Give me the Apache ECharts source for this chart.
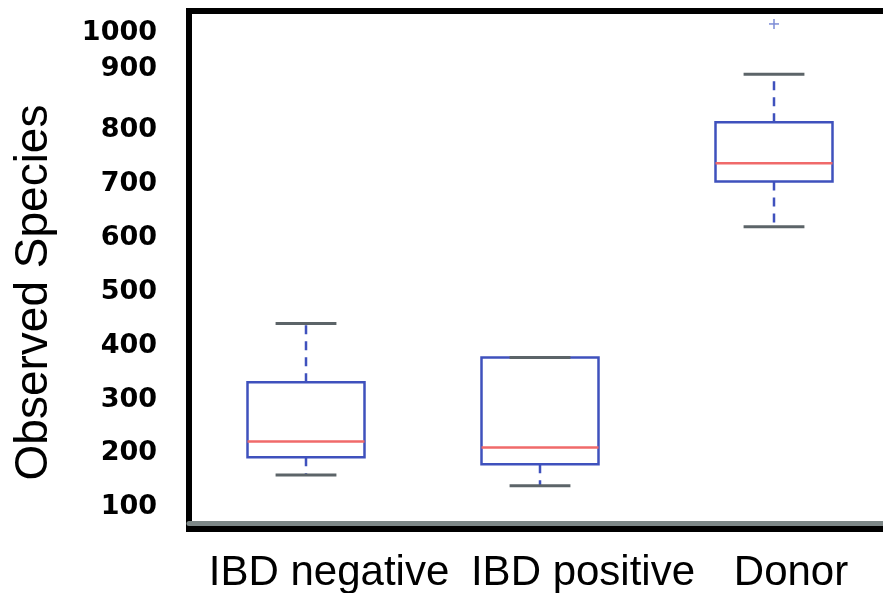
<!DOCTYPE html>
<html>
<head>
<meta charset="utf-8">
<script src="https://cdn.jsdelivr.net/npm/echarts@6/dist/echarts.min.js"></script>
<style>
html,body{margin:0;padding:0;background:#fff;}
#chart{width:883px;height:593px;}
</style>
</head>
<body>
<div id="chart"></div>
<script>
// ---- data ----
const categories = ['IBD negative', 'IBD positive', 'Donor'];
const whiskerLow = [160, 140, 620];
const q1 = [193, 180, 704];
const median = [222, 211, 738];
const q3 = [332, 378, 814];
const whiskerHigh = [441, 378, 903];
const outlierCategory = ['Donor'];
const outlierValue = [996];
const yTickValues = [100, 200, 300, 400, 500, 600, 700, 800, 900, 1000];
const yAxisTitle = 'Observed Species';

// ---- build series data ----
const boxData = categories.map((c, i) => [i, whiskerLow[i], q1[i], median[i], q3[i], whiskerHigh[i]]);
const outlierData = outlierCategory.map((c, i) => [categories.indexOf(c), outlierValue[i]]);

const BLUE = '#3f51bd';
const RED = '#f06a6a';
const CAP = '#5c6468';

function renderBox(params, api) {
  const x = api.value(0);
  const pLow = api.coord([x, api.value(1)]);
  const pQ1 = api.coord([x, api.value(2)]);
  const pMed = api.coord([x, api.value(3)]);
  const pQ3 = api.coord([x, api.value(4)]);
  const pHigh = api.coord([x, api.value(5)]);
  const band = api.size([1, 0])[0];
  const hw = band * 0.25;
  const cw = band * 0.13;
  const cx = pMed[0];
  const children = [];
  const dash = {stroke: BLUE, lineWidth: 2.5, lineDash: [9, 7]};
  if (pHigh[1] < pQ3[1]) {
    children.push({type: 'line', shape: {x1: cx, y1: pQ3[1], x2: cx, y2: pHigh[1]}, style: dash});
  }
  if (pLow[1] > pQ1[1]) {
    children.push({type: 'line', shape: {x1: cx, y1: pQ1[1], x2: cx, y2: pLow[1]}, style: dash});
  }
  children.push({type: 'rect', shape: {x: cx - hw, y: pQ3[1], width: hw * 2, height: pQ1[1] - pQ3[1]},
    style: {fill: '#fff', stroke: BLUE, lineWidth: 2.5}});
  children.push({type: 'line', shape: {x1: cx - cw, y1: pHigh[1], x2: cx + cw, y2: pHigh[1]},
    style: {stroke: CAP, lineWidth: 3}});
  children.push({type: 'line', shape: {x1: cx - cw, y1: pLow[1], x2: cx + cw, y2: pLow[1]},
    style: {stroke: CAP, lineWidth: 3}});
  children.push({type: 'line', shape: {x1: cx - hw, y1: pMed[1], x2: cx + hw, y2: pMed[1]},
    style: {stroke: RED, lineWidth: 2.5}});
  return {type: 'group', children: children};
}

function renderOutlier(params, api) {
  const p = api.coord([api.value(0), api.value(1)]);
  const s = 5;
  return {type: 'group', children: [
    {type: 'line', shape: {x1: p[0] - s, y1: p[1], x2: p[0] + s, y2: p[1]}, style: {stroke: '#7d8cd6', lineWidth: 1.5}},
    {type: 'line', shape: {x1: p[0], y1: p[1] - s, x2: p[0], y2: p[1] + s}, style: {stroke: '#7d8cd6', lineWidth: 1.5}}
  ]};
}

const labelFont = 'Liberation Sans, Arial, sans-serif';

const chart = echarts.init(document.getElementById('chart'), null, {renderer: 'canvas'});
chart.setOption({
  animation: false,
  backgroundColor: '#fff',
  grid: {
    left: 189, top: 11, width: 702, height: 518,
    outerBoundsMode: 'none', containLabel: false,
    show: true, borderColor: '#000', borderWidth: 6, backgroundColor: '#fff'
  },
  xAxis: {
    type: 'category',
    data: categories,
    boundaryGap: true,
    offset: -6,
    axisLine: {show: true, lineStyle: {color: '#7d8787', width: 5}},
    axisTick: {show: false},
    splitLine: {show: false},
    axisLabel: {
      interval: 0,
      hideOverlap: false,
      margin: 29,
      color: '#000',
      fontFamily: labelFont,
      fontSize: 42,
      formatter: function (v, i) { return '{c' + i + '|' + v + '}'; },
      rich: {
        c0: {fontFamily: labelFont, fontSize: 42, color: '#000', padding: [0, 0, 0, 46]},
        c1: {fontFamily: labelFont, fontSize: 42, color: '#000', padding: [0, 0, 0, 86]},
        c2: {fontFamily: labelFont, fontSize: 42, color: '#000', padding: [0, 0, 0, 34]}
      }
    }
  },
  yAxis: {
    type: 'value',
    min: 60,
    max: 1020,
    name: yAxisTitle,
    nameLocation: 'middle',
    nameRotate: 90,
    nameGap: 132,
    nameTextStyle: {fontFamily: labelFont, fontSize: 46, color: '#000', padding: [0, 45, 0, 0]},
    axisLine: {show: false},
    axisTick: {show: false},
    splitLine: {show: false},
    axisLabel: {
      customValues: yTickValues,
      margin: 32,
      color: '#000',
      fontFamily: 'DejaVu Sans, sans-serif',
      fontWeight: 'bold',
      fontSize: 27,
      formatter: function (v) {
        if (v === 1000) return '{lo|' + v + '}';
        if (v === 900) return '{hi|' + v + '}';
        return '{n|' + v + '}';
      },
      rich: {
        n: {fontFamily: 'DejaVu Sans, sans-serif', fontWeight: 'bold', fontSize: 27, color: '#000'},
        lo: {fontFamily: 'DejaVu Sans, sans-serif', fontWeight: 'bold', fontSize: 27, color: '#000', padding: [22, 0, 0, 0]},
        hi: {fontFamily: 'DejaVu Sans, sans-serif', fontWeight: 'bold', fontSize: 27, color: '#000', padding: [0, 0, 14, 0]}
      }
    }
  },
  series: [
    {type: 'custom', renderItem: renderBox, data: boxData, encode: {x: 0, y: [1, 2, 3, 4, 5]}, clip: false, z: 3},
    {type: 'custom', renderItem: renderOutlier, data: outlierData, encode: {x: 0, y: 1}, z: 3}
  ]
});
</script>
</body>
</html>
